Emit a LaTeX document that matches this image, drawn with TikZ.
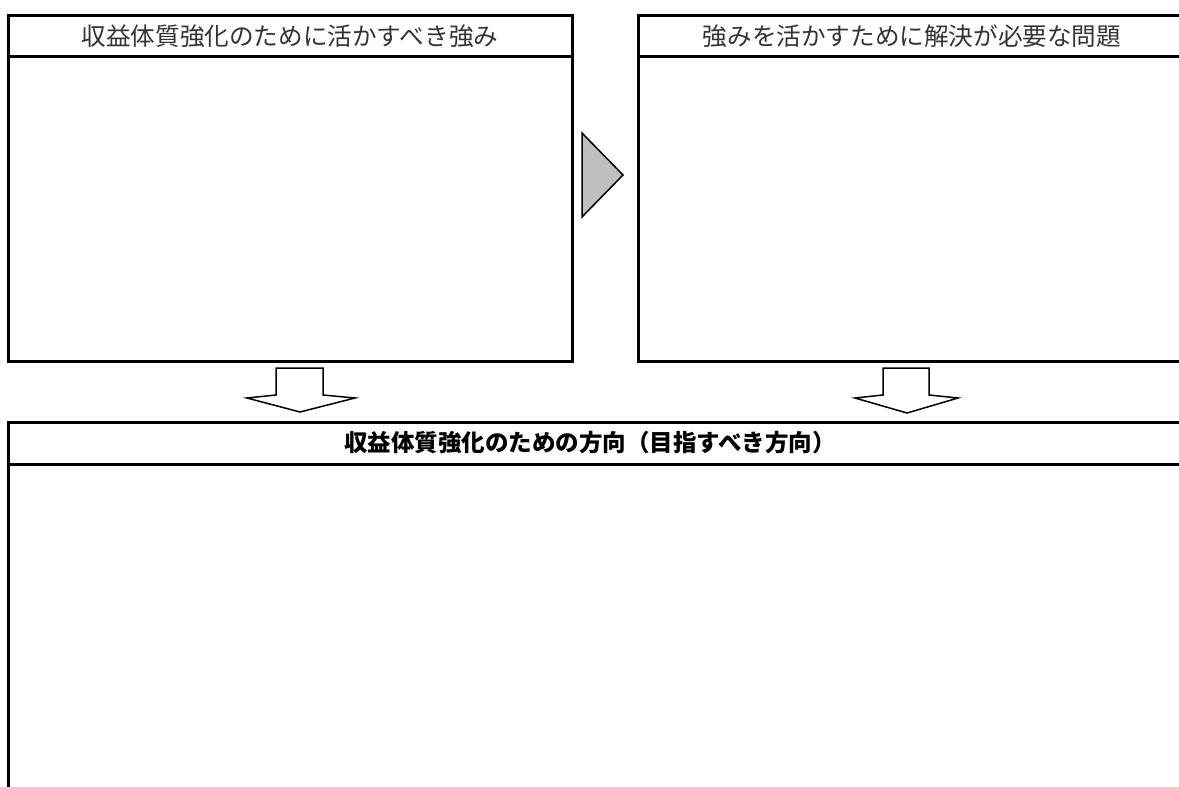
\documentclass[tikz,border=0pt]{standalone}
\usepackage{fontspec}
\newfontfamily\cjk{Noto Sans CJK JP}
\begin{document}
\begin{tikzpicture}[x=1pt,y=-1pt,
  frame/.style={line width=3pt,line cap=rect},
  headtxt/.style={font=\cjk\fontsize{24.6}{26}\selectfont,inner sep=0pt,text=black!80},
  boldtxt/.style={font=\cjk\bfseries\fontsize{23.5}{25}\selectfont,inner sep=0pt},
  darrow/.style={draw,line width=1.5pt,fill=white,line join=miter},
  tri/.style={draw,line width=1.5pt,fill=black!25,line join=miter}]
\useasboundingbox (0,0) rectangle (1179,787);
% left box
\draw[frame] (572,56) -- (572,15) -- (8,15) -- (8,361) -- (572,361) -- (572,56) -- (8,56);
\node[headtxt] (lh) at (290,36) {収益体質強化のために活かすべき強み};
% right box
\draw[frame] (1179,15) -- (638,15) -- (638,361) -- (1179,361);
\draw[frame] (638,56) -- (1179,56);
\node[headtxt] (rh) at (912,36) {強みを活かすために解決が必要な問題};
% triangle
\coordinate (t1) at (582,133);
\coordinate (t2) at (623,175);
\coordinate (t3) at (582,217);
\draw[tri] (t1) -- (t2) -- (t3) -- cycle;
% down arrows
\draw[darrow] (276,368) -- (323,368) -- (323,395) -- (355,398) -- (300,412) -- (247,398) -- (276,395) -- cycle;
\draw[darrow] (883,368) -- (929,368) -- (929,395) -- (958,398) -- (907,413) -- (855,398) -- (883,395) -- cycle;
% bottom box
\draw[frame] (1179,422) -- (8,422) -- (8,790);
\draw[frame] (8,464) -- (1179,464);
\node[boldtxt] (bh) at (590,443) {収益体質強化のための方向（目指すべき方向）};
\end{tikzpicture}
\end{document}
